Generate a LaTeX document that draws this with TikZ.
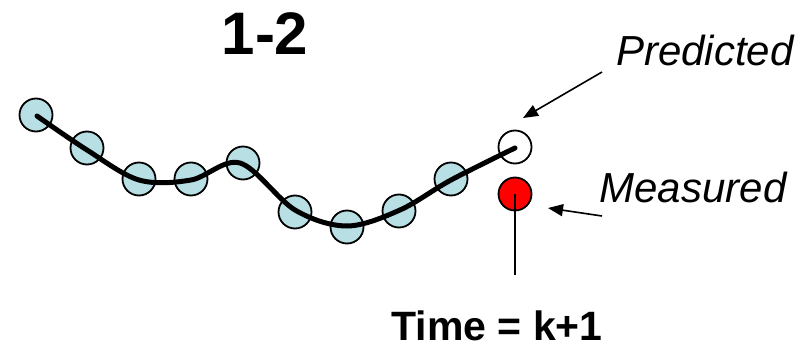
\documentclass[tikz,border=0pt]{standalone}
\usepackage{fontspec}
\setmainfont{Liberation Sans}
\usetikzlibrary{arrows.meta}

\definecolor{stateblue}{RGB}{184,224,228}

\tikzset{
  state/.style={circle, draw=black, line width=1.8pt, fill=stateblue,
    minimum size=33pt, inner sep=0pt},
  pointer/.style={line width=1.6pt, -{Triangle[length=15pt,width=12pt]}},
}

\begin{document}
\begin{tikzpicture}[x=1pt,y=-1pt]
    \useasboundingbox (0,0) rectangle (802,345);
    % past estimates
    \node[state] (p1) at (36,115) {};
    \node[state] (p2) at (87,148) {};
    \node[state] (p3) at (139,179) {};
    \node[state] (p4) at (191,179) {};
    \node[state] (p5) at (243,163) {};
    \node[state] (p6) at (295,212) {};
    \node[state] (p7) at (347,227) {};
    \node[state] (p8) at (399,211) {};
    \node[state] (p9) at (451,179) {};
    \node[state, fill=white] (pred) at (515,147) {};
    \node[state, fill=red] (meas) at (515,194) {};
    \draw[line width=5pt, line cap=round] plot[smooth, tension=0.55] coordinates
      {(37,116) (87,150) (139,180) (191,180) (240,163) (295,210) (347,226) (400,210) (451,180) (515,148)};
    \coordinate (tick) at (515,275);
    \draw[line width=1.6pt] (meas.center) -- (tick);
    \node[font=\bfseries\fontsize{60}{62}\selectfont, anchor=base, inner sep=0pt] (title) at (265,55) {1-2};
    \node[font=\itshape\fontsize{42}{44}\selectfont, anchor=base, inner sep=0pt] (predlabel) at (705,65) {Predicted};
    \node[font=\itshape\fontsize{42}{44}\selectfont, anchor=base, inner sep=0pt] (measlabel) at (693,202) {Measured};
    \node[font=\bfseries\fontsize{41}{43}\selectfont, anchor=base, inner sep=0pt, text depth=0pt] (timelabel) at (497,340) {Time = k+1};
    \coordinate (predtail) at (602,72);
    \coordinate (predtip) at (523,118);
    \coordinate (meastail) at (602,216);
    \coordinate (meastip) at (548,208);
    \draw[pointer] (predtail) -- (predtip);
    \draw[pointer] (meastail) -- (meastip);
\end{tikzpicture}
\end{document}
